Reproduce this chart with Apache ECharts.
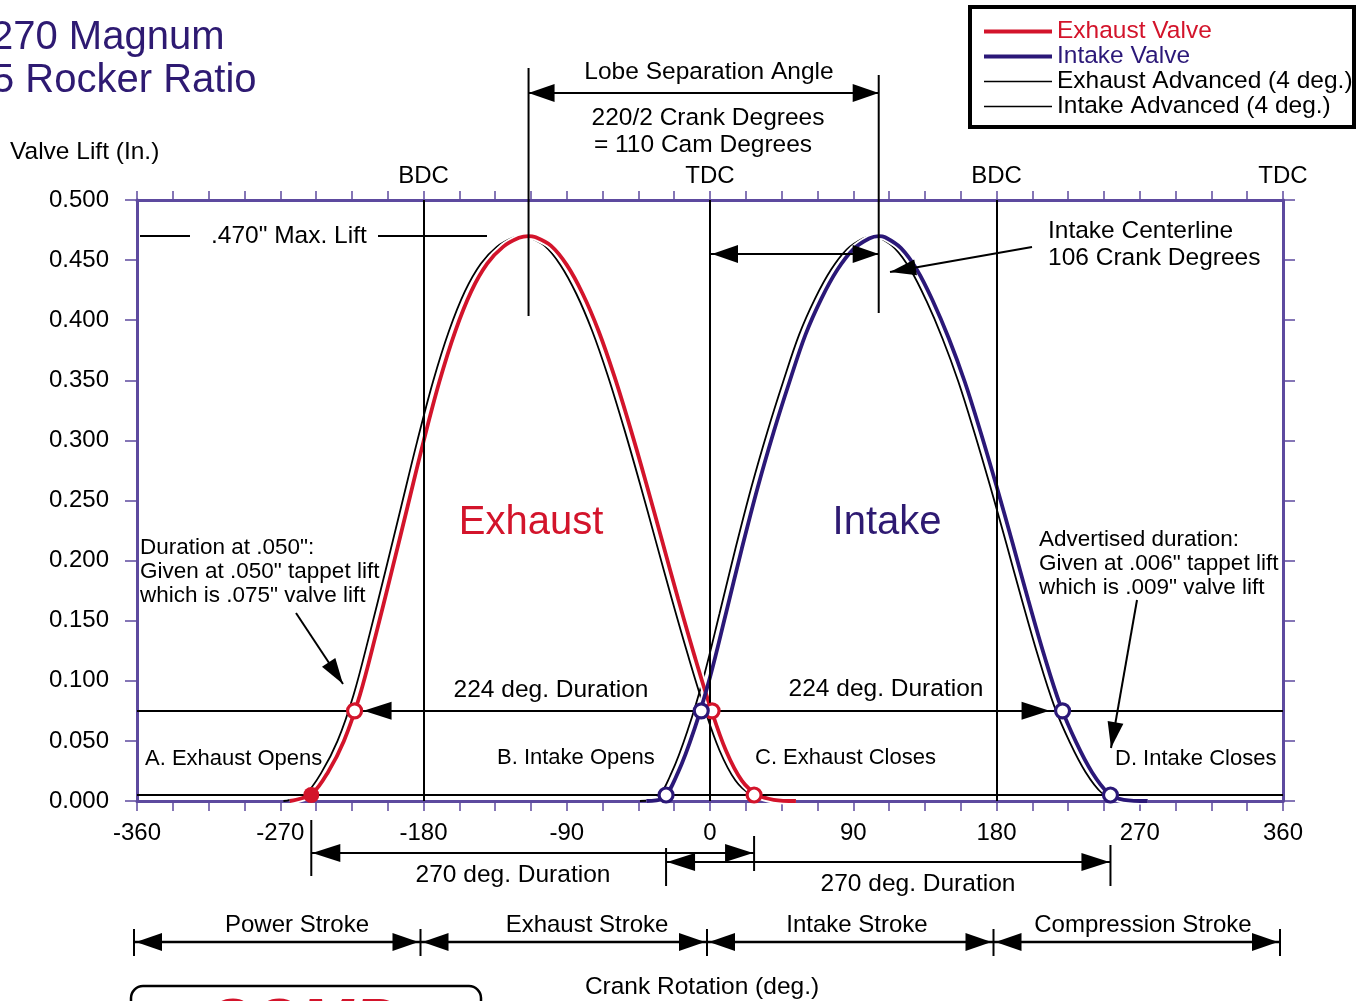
<!DOCTYPE html>
<html>
<head>
<meta charset="utf-8">
<title>270 Magnum valve timing</title>
<script src="https://cdn.jsdelivr.net/npm/echarts@6.0.0/dist/echarts.min.js"></script>
<style>
  html, body { margin: 0; padding: 0; background: #fff; }
  #chart { width: 1358px; height: 1001px; }
</style>
</head>
<body>
<div id="chart"></div>
<script>
// Crank angle (deg, 0 = TDC overlap) and valve lift (in.)
const exhaustAngle = [-264, -260, -250, -240, -230, -220, -210, -200, -190, -180, -170, -160, -150, -140, -130, -120, -114, -110, -100, -90, -80, -70, -60, -50, -40, -30, -20, -10, 0, 10, 20, 30, 40, 54];
const exhaustLift  = [0, 0.001, 0.006, 0.024, 0.050, 0.088, 0.138, 0.191, 0.245, 0.299, 0.349, 0.391, 0.424, 0.447, 0.461, 0.4685, 0.470, 0.4692, 0.462, 0.446, 0.422, 0.391, 0.353, 0.310, 0.264, 0.216, 0.168, 0.122, 0.079, 0.042, 0.017, 0.005, 0.001, 0];
const exhaustAdvAngle = [-268, -264, -254, -244, -234, -224, -214, -204, -194, -184, -174, -164, -154, -144, -134, -124, -118, -114, -104, -94, -84, -74, -64, -54, -44, -34, -24, -14, -4, 6, 16, 26, 36, 50];

const intakeAngle = [-40, -30, -20, -10, 0, 10, 20, 30, 40, 50, 60, 70, 80, 90, 100, 106, 110, 120, 130, 140, 150, 160, 170, 180, 190, 200, 210, 220, 230, 240, 250, 260, 275];
const intakeLift  = [0, 0.002, 0.024, 0.059, 0.103, 0.156, 0.210, 0.261, 0.307, 0.349, 0.388, 0.418, 0.442, 0.459, 0.468, 0.470, 0.469, 0.460, 0.442, 0.416, 0.385, 0.349, 0.307, 0.262, 0.215, 0.167, 0.121, 0.080, 0.049, 0.024, 0.007, 0.001, 0];
const intakeAdvAngle = [-44, -34, -24, -14, -4, 6, 16, 26, 36, 46, 56, 66, 76, 86, 96, 102, 106, 116, 126, 136, 146, 156, 166, 176, 186, 196, 206, 216, 226, 236, 246, 256, 271];

// Timing events: [advertised open, .050" open, .050" close, advertised close]
const exhaustEvents = [-250.5, -223.3, 1.3, 27.7];
const intakeEvents  = [-27.6, -5.5, 221.5, 251.6];
const eventLift     = [0.005, 0.075, 0.075, 0.005];

const checkLift = 0.075;   // .050" tappet lift x 1.5 rocker
const seatLift  = 0.005;   // advertised-duration lift line
const maxLift   = 0.470;
const centerlines = [-114, 106];          // exhaust, intake lobe centerlines
const deadCenters = [-180, 0, 180, 360];
const deadCenterNames = ['BDC', 'TDC', 'BDC', 'TDC'];
const degLabels = [-360, -270, -180, -90, 0, 90, 180, 270, 360];
const strokeBounds = [-360, -180, 0, 180, 360];
const strokeNames = ['Power Stroke', 'Exhaust Stroke', 'Intake Stroke', 'Compression Stroke'];

const FONT = '"Liberation Sans", Arial, Helvetica, sans-serif';
const RED = '#d3142b';
const INDIGO = '#2b1878';
const TITLE = '#2e1a72';
const FRAME = '#5d4a9f';
const SMOOTH = 0.35;

const zip = (xs, ys) => xs.map((x, i) => [x, ys[i]]);

const chart = echarts.init(document.getElementById('chart'), null, { renderer: 'canvas' });

const axisCommon = {
  type: 'value',
  axisLine: { show: true, onZero: false, lineStyle: { color: FRAME, width: 3 } },
  splitLine: { show: false }
};

const THICK = 'path://M0,0H68V4H0Z';
const THIN = 'path://M0,0H68V1.6H0Z';

function curve(name, xs, ys, color, width, z) {
  return {
    name, type: 'line', z, silent: true,
    data: zip(xs, ys), smooth: SMOOTH, showSymbol: false, symbol: 'none',
    itemStyle: { color }, lineStyle: { color, width }
  };
}

const exhaustAdv = curve('Exhaust Advanced (4 deg.)', exhaustAdvAngle, exhaustLift, '#000', 1.8, 2);
exhaustAdv.markLine = {
  silent: true, symbol: 'none', precision: 4, label: { show: false },
  lineStyle: { color: '#000', width: 2, type: 'solid' },
  data: [
    { yAxis: checkLift }, { yAxis: seatLift },
    { xAxis: deadCenters[0] }, { xAxis: deadCenters[1] }, { xAxis: deadCenters[2] }
  ]
};

chart.setOption({
  animation: false,
  backgroundColor: '#fff',
  grid: { left: 137, right: 75, top: 200, bottom: 200, containLabel: false },
  legend: {
    orient: 'vertical',
    left: 984,
    top: 19,
    padding: 0,
    itemWidth: 68,
    itemHeight: 12,
    itemGap: 0,
    selectedMode: false,
    textStyle: { fontFamily: FONT, fontSize: 24.5, lineHeight: 24, color: '#000' },
    data: [
      { name: 'Exhaust Valve', icon: THICK, textStyle: { color: RED } },
      { name: 'Intake Valve', icon: THICK, textStyle: { color: INDIGO } },
      { name: 'Exhaust Advanced (4 deg.)', icon: THIN },
      { name: 'Intake Advanced (4 deg.)', icon: THIN }
    ]
  },
  xAxis: [
    Object.assign({}, axisCommon, {
      min: -360, max: 360, interval: 22.5, position: 'bottom',
      axisTick: { show: true, length: 10, lineStyle: { color: FRAME, width: 1.5 } },
      axisLabel: {
        margin: 20, color: '#000', fontSize: 24, fontFamily: FONT,
        showMinLabel: true, showMaxLabel: true,
        formatter: v => (degLabels.indexOf(v) >= 0 ? String(v) : '')
      }
    }),
    Object.assign({}, axisCommon, {
      min: -360, max: 360, interval: 22.5, position: 'top',
      axisTick: { show: true, length: 9, lineStyle: { color: FRAME, width: 1.5 } },
      axisLabel: { show: false }
    })
  ],
  yAxis: [
    Object.assign({}, axisCommon, {
      min: 0, max: 0.5, interval: 0.05, position: 'left',
      axisTick: { show: true, length: 12, lineStyle: { color: FRAME, width: 1.5 } },
      axisLabel: {
        margin: 28, color: '#000', fontSize: 24, fontFamily: FONT,
        formatter: v => v.toFixed(3)
      }
    }),
    Object.assign({}, axisCommon, {
      min: 0, max: 0.5, interval: 0.05, position: 'right',
      axisTick: { show: true, length: 12, lineStyle: { color: FRAME, width: 1.5 } },
      axisLabel: { show: false }
    })
  ],
  series: [
    exhaustAdv,
    curve('Intake Advanced (4 deg.)', intakeAdvAngle, intakeLift, '#000', 1.8, 2),
    curve('exhaust-casing', exhaustAngle, exhaustLift, '#fff', 7.5, 3),
    curve('intake-casing', intakeAngle, intakeLift, '#fff', 7.5, 3),
    curve('Exhaust Valve', exhaustAngle, exhaustLift, RED, 3.8, 4),
    curve('Intake Valve', intakeAngle, intakeLift, INDIGO, 3.8, 4),
    {
      name: 'exhaust-open-seat', type: 'scatter', z: 6, silent: true,
      symbolSize: 16, itemStyle: { color: RED, opacity: 1 },
      data: [[exhaustEvents[0], eventLift[0]]]
    },
    {
      name: 'exhaust-events', type: 'scatter', z: 6, silent: true,
      symbolSize: 14, itemStyle: { color: '#fff', borderColor: RED, borderWidth: 3.2, opacity: 1 },
      data: [1, 2, 3].map(i => [exhaustEvents[i], eventLift[i]])
    },
    {
      name: 'intake-events', type: 'scatter', z: 6, silent: true,
      symbolSize: 14, itemStyle: { color: '#fff', borderColor: INDIGO, borderWidth: 3.2, opacity: 1 },
      data: [0, 1, 2, 3].map(i => [intakeEvents[i], eventLift[i]])
    }
  ]
});

// ---- annotations ----
const P = (x, y) => chart.convertToPixel({ gridIndex: 0 }, [x, y === undefined ? 0 : y]);
const px = d => P(d, 0)[0];

function seg(x1, y1, x2, y2, w) {
  return { type: 'line', silent: true, z: 20, shape: { x1, y1, x2, y2 }, style: { stroke: '#000', lineWidth: w || 2 } };
}
function head(tx, ty, ang, len, half) {
  len = len || 24; half = half || 8;
  const c = Math.cos(ang), s = Math.sin(ang);
  const bx = tx - len * c, by = ty - len * s;
  return {
    type: 'polygon', silent: true, z: 21,
    shape: { points: [[tx, ty], [bx - half * s, by + half * c], [bx + half * s, by - half * c]] },
    style: { fill: '#000' }
  };
}
function txt(str, x, y, size, align, color) {
  return {
    type: 'text', silent: true, z: 22,
    style: {
      text: str, x, y, fill: color || '#000',
      font: (size || 24) + 'px ' + FONT,
      textAlign: align || 'left', textVerticalAlign: 'middle'
    }
  };
}
function pointer(x1, y1, x2, y2) {
  return [seg(x1, y1, x2, y2, 2), head(x2, y2, Math.atan2(y2 - y1, x2 - x1), 26, 8)];
}

const g = [];
const exX = px(centerlines[0]);
const inX = px(centerlines[1]);
const tdcX = px(0);
const yMax = P(0, maxLift)[1];
const yCheck = P(0, checkLift)[1];

// titles
g.push(txt('270 Magnum', -9, 38, 40, 'left', TITLE));
g.push(txt('5 Rocker Ratio', -8, 81, 40, 'left', TITLE));
g.push(txt('Valve Lift (In.)', 10, 152, 24.5));

// legend frame
g.push({ type: 'rect', silent: true, z: 19, shape: { x: 970, y: 7, width: 384, height: 120 },
         style: { fill: 'none', stroke: '#000', lineWidth: 4 } });

// dead-centre labels above the frame
deadCenters.forEach((d, i) => g.push(txt(deadCenterNames[i], px(d), 176, 24, 'center')));

// lobe separation
g.push(seg(exX, 68, exX, 316, 2));
g.push(seg(inX, 75, inX, 313, 2));
g.push(seg(exX, 93, inX, 93, 2));
g.push(head(exX, 93, Math.PI, 26, 9));
g.push(head(inX, 93, 0, 26, 9));
g.push(txt('Lobe Separation Angle', 709, 72, 24.5, 'center'));
g.push(txt('220/2 Crank Degrees', 708, 118, 24.5, 'center'));
g.push(txt('= 110 Cam Degrees', 703, 145, 24.5, 'center'));

// max lift
g.push(seg(140, yMax, 190, yMax, 2));
g.push(seg(378, yMax, 487, yMax, 2));
g.push(txt('.470" Max. Lift', 211, yMax, 24.5));

// intake centerline
g.push(seg(tdcX, 254, inX, 254, 2));
g.push(head(tdcX + 2, 254, Math.PI, 26, 9));
g.push(head(inX, 254, 0, 26, 9));
g.push(txt('Intake Centerline', 1048, 231, 24.5));
g.push(txt('106 Crank Degrees', 1048, 258, 24.5));
g.push(...pointer(1032, 247, 890, 272));

// big labels
g.push(txt('Exhaust', 531, 523, 40, 'center', RED));
g.push(txt('Intake', 887, 523, 40, 'center', TITLE));

// .050" note
g.push(txt('Duration at .050":', 140, 548, 22.5));
g.push(txt('Given at .050" tappet lift', 140, 572, 22.5));
g.push(txt('which is .075" valve lift', 140, 596, 22.5));
g.push(...pointer(296, 613, 343, 684));

// advertised note
g.push(txt('Advertised duration:', 1039, 540, 22.5));
g.push(txt('Given at .006" tappet lift', 1039, 564, 22.5));
g.push(txt('which is .009" valve lift', 1039, 588, 22.5));
g.push(...pointer(1137, 600, 1111, 748));

// 224 deg durations on the check-lift line
g.push(txt('224 deg. Duration', 551, 690, 24.5, 'center'));
g.push(txt('224 deg. Duration', 886, 689, 24.5, 'center'));
g.push(head(px(exhaustEvents[1]) + 9, yCheck, Math.PI, 28, 9));
g.push(head(px(intakeEvents[2]) - 13, yCheck, 0, 28, 9));

// event labels
g.push(txt('A. Exhaust Opens', 145, 759, 22));
g.push(txt('B. Intake Opens', 497, 758, 22));
g.push(txt('C. Exhaust Closes', 755, 758, 22));
g.push(txt('D. Intake Closes', 1115, 759, 22));

// 270 deg advertised durations
(function () {
  const l = px(exhaustEvents[0]), r = px(exhaustEvents[3]);
  g.push(seg(l, 820, l, 876, 2), seg(r, 836, r, 871, 2), seg(l, 853, r, 853, 2));
  g.push(head(l + 1, 853, Math.PI, 28, 9), head(r - 1, 853, 0, 28, 9));
  g.push(txt('270 deg. Duration', 513, 875, 24.5, 'center'));
})();
(function () {
  const l = px(intakeEvents[0]), r = px(intakeEvents[3]);
  g.push(seg(l, 848, l, 886, 2), seg(r, 845, r, 886, 2), seg(l, 862, r, 862, 2));
  g.push(head(l + 1, 862, Math.PI, 28, 9), head(r - 1, 862, 0, 28, 9));
  g.push(txt('270 deg. Duration', 918, 884, 24.5, 'center'));
})();

// four strokes
(function () {
  const xs = strokeBounds.map(d => px(d) - 3);
  const y = 942;
  const textX = [297, 587, 857, 1143];
  xs.forEach(x => g.push(seg(x, 929, x, 956, 2)));
  for (let i = 0; i < strokeNames.length; i++) {
    const a = xs[i], b = xs[i + 1];
    g.push(seg(a, y, b, y, 2.5));
    g.push(head(a + 2, y, Math.PI, 26, 9), head(b - 2, y, 0, 26, 9));
    g.push(txt(strokeNames[i], textX[i], 925, 24, 'center'));
  }
})();

g.push(txt('Crank Rotation (deg.)', 702, 987, 24.5, 'center'));

// badge at the foot of the sheet
g.push({ type: 'rect', silent: true, z: 19, shape: { x: 131, y: 986, width: 350, height: 44, r: 12 },
         style: { fill: '#fff', stroke: '#000', lineWidth: 2.5 } });
g.push({ type: 'text', silent: true, z: 20,
         style: { text: 'COMP', x: 300, y: 994, fill: RED, font: 'bold italic 64px ' + FONT,
                  textAlign: 'center', textVerticalAlign: 'top' } });

chart.setOption({ graphic: g });
</script>
</body>
</html>
